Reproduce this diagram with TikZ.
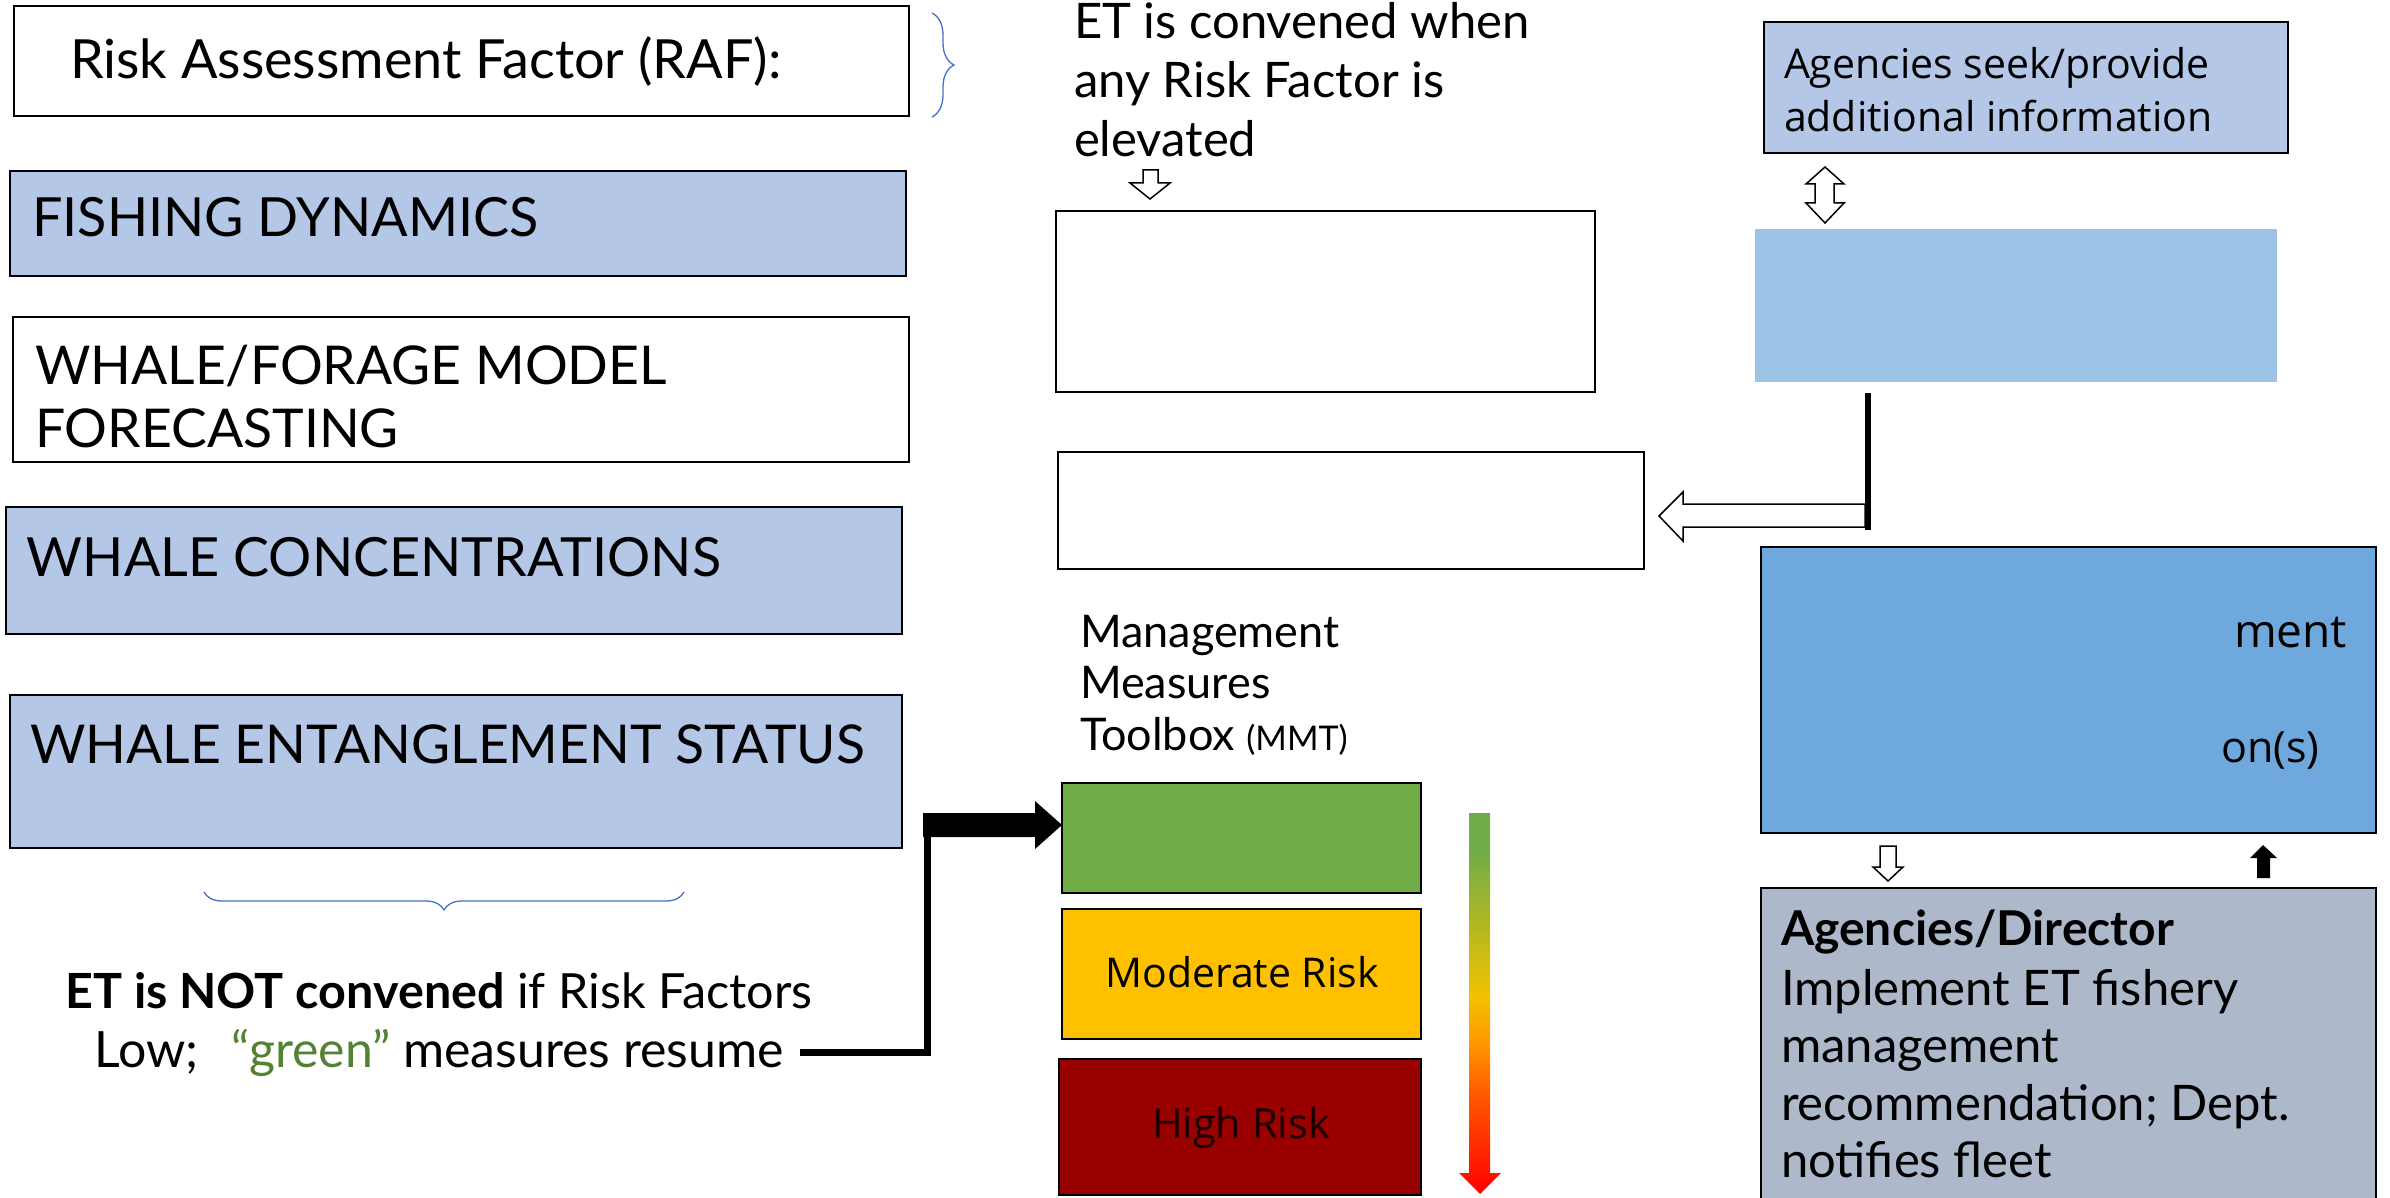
\documentclass[tikz,border=0pt]{standalone}
\usepackage{fontspec}
\setmainfont{Lato}
\newfontfamily\osans{Open Sans}
\usetikzlibrary{fit,decorations.pathreplacing}
\definecolor{lblue}{HTML}{B4C7E7}
\definecolor{mblue}{HTML}{9DC3E6}
\definecolor{dblue}{HTML}{6FA8DC}
\definecolor{greybox}{HTML}{ADB9CA}
\definecolor{lowgreen}{HTML}{70AD47}
\definecolor{modyellow}{HTML}{FFC000}
\definecolor{highred}{HTML}{990000}
\definecolor{braceblue}{HTML}{4472C4}
\definecolor{txtgreen}{HTML}{548235}
\definecolor{rgRed}{HTML}{FF0000}
\definecolor{rgRO}{HTML}{FF5500}
\definecolor{rgOr}{HTML}{FF9900}
\definecolor{rgYe}{HTML}{F2C200}
\definecolor{rgGr}{HTML}{70AD47}
\pgfdeclareverticalshading{riskgrad}{100bp}{color(0bp)=(rgRed); color(25bp)=(rgRed); color(37.5bp)=(rgRO); color(45bp)=(rgOr); color(51bp)=(rgYe); color(70bp)=(rgGr); color(100bp)=(rgGr)}
\newcommand\FS[1]{\fontsize{#1}{#1}\selectfont}
\begin{document}
\begin{tikzpicture}[x=1pt,y=-1pt,
  boxframe/.style={draw=black, line width=1.6pt, inner sep=0pt, outer sep=0pt},
  plainfill/.style={inner sep=0pt, outer sep=0pt},
  txt/.style={anchor=base west, inner sep=0pt, outer sep=0pt},
  ctxt/.style={anchor=base, inner sep=0pt, outer sep=0pt},
  hollow/.style={draw=black, fill=white, line width=1.5pt, line join=miter},
  solidarrow/.style={fill=black, draw=none},
  braceline/.style={draw=braceblue, line width=1.3pt, decorate},
  heavyline/.style={draw=black, line width=7pt}
]
\useasboundingbox (0,0) rectangle (2390,1198);
\clip (0,0) rectangle (2390,1198);

% ---------- left column ----------
\node[boxframe, fit={(14,6) (909,116)}] (raf) {};
\node[txt, font=\FS{54}] (raft) at (70,79) {Risk Assessment Factor (RAF):};
\draw[braceline, decoration={brace, amplitude=22pt}] (932,13) -- (932,117);

\node[boxframe, fill=lblue, fit={(10,171) (906,276)}] (fd) {};
\node[txt, font=\FS{54}] (fdt) at (32,237) {FISHING DYNAMICS};

\node[boxframe, fit={(13,317) (909,462)}] (wf) {};
\node[txt, font=\FS{53.5}] (wft1) at (35,384) {WHALE/FORAGE MODEL};
\node[txt, font=\FS{53.5}] (wft2) at (35,447) {FORECASTING};

\node[boxframe, fill=lblue, fit={(6,507) (902,634)}] (wc) {};
\node[txt, font=\FS{54}] (wct) at (27,576) {WHALE CONCENTRATIONS};

\node[boxframe, fill=lblue, fit={(10,695) (902,848)}] (wes) {};
\node[txt, font=\FS{53.5}] (west) at (30,763) {WHALE ENTANGLEMENT STATUS};

\draw[braceline, decoration={brace, amplitude=18pt}] (684,892) -- (204,892);

\node[ctxt, font=\FS{48.5}] (notc1) at (439,1008) {\bfseries ET is NOT convened\mdseries{} if Risk Factors};
\node[ctxt, font=\FS{50}] (notc2) at (439,1067) {Low;\enspace\thinspace{}\textcolor{txtgreen}{“green”} measures resume};

% ---------- middle column ----------
\node[txt, font=\FS{49}] (etc1) at (1074,39) {ET is convened when};
\node[txt, font=\FS{49}] (etc2) at (1074,98) {any Risk Factor is};
\node[txt, font=\FS{49}] (etc3) at (1074,157) {elevated};
\draw[hollow] (1143,170) -- (1158,170) -- (1158,183) -- (1170,183) -- (1150,199) -- (1130,183) -- (1143,183) -- cycle;

\node[boxframe, fit={(1056,211) (1595,392)}] (etbox) {};
\node[boxframe, fit={(1058,452) (1644,569)}] (recbox) {};

\node[txt, font=\FS{45}] (mmt1) at (1080,647) {Management};
\node[txt, font=\FS{45}] (mmt2) at (1080,698) {Measures};
\node[txt, font=\FS{45}] (mmt3) at (1080,750) {Toolbox {\FS{34}(MMT)}};

\node[boxframe, fill=lowgreen, fit={(1062,783) (1421,893)}] (low) {};
\node[boxframe, fill=modyellow, fit={(1062,909) (1421,1039)}] (mod) {};
\node[ctxt, font=\osans\FS{41}] (modt) at (1242,987) {Moderate Risk};
\node[boxframe, fill=highred, fit={(1059,1059) (1421,1195)}] (high) {};
\node[ctxt, font=\osans\FS{41.5}, text=black!90!red] (hight) at (1241,1138) {High Risk};

\path[shading=riskgrad] (1469,813) -- (1490,813) -- (1490,1173) -- (1501,1173) -- (1480,1194) -- (1459,1173) -- (1469,1173) -- cycle;

% connector from "measures resume" to the green box
\coordinate (c0) at (800,1052);
\coordinate (c1) at (927,1052);
\coordinate (c2) at (927,813);
\draw[heavyline] (c0) -- ([xshift=3.5pt]c1);
\draw[heavyline] ([yshift=3.5pt]c1) -- (c2);
\fill[solidarrow] (923,813) -- (1035,813) -- (1035,801) -- (low.west |- 0,825) -- (1035,849) -- (1035,837) -- (923,837) -- cycle;

% ---------- right column ----------
\node[boxframe, fill=lblue, fit={(1764,22) (2288,153)}] (seek) {};
\node[txt, font=\osans\FS{41}] (seekt1) at (1784,79) {Agencies seek/provide};
\node[txt, font=\osans\FS{41}] (seekt2) at (1784,132) {additional information};

\draw[hollow] (1815,184) -- (1806,184) -- (1825,167) -- (1844,184) -- (1834,184) -- (1834,203) -- (1844,203) -- (1825,223) -- (1806,203) -- (1815,203) -- cycle;

\node[plainfill, fill=mblue, fit={(1755,229) (2277,382)}] (info) {};

\coordinate (ltip) at (1659,516);
\draw[hollow] (1865,504) -- (1683,504) -- (1683,492) -- (ltip) -- (1683,541) -- (1683,527) -- (1865,527) -- cycle;
\draw[draw=black, line width=6pt] (1868,393) -- (1868,530);

\node[boxframe, fill=dblue, fit={(1761,547) (2376,833)}] (tbox) {};
\node[txt, font=\osans\FS{46}] (tment) at (2234,647) {ment};
\node[txt, font=\osans\FS{43}] (tons) at (2221,762) {on(s)};

\draw[hollow] (1880,846) -- (1896,846) -- (1896,867) -- (1903,867) -- (1888,881) -- (1873,867) -- (1880,867) -- cycle;
\fill[solidarrow] (2257,878) -- (2257,858) -- (2250,858) -- (2263,845) -- (2277,858) -- (2270,858) -- (2270,878) -- cycle;

\node[boxframe, fill=greybox, fit={(1761,888) (2376,1230)}] (dir) {};
\node[txt, font=\FS{48}] (dirt0) at (1781,945) {\bfseries Agencies/Director};
\node[txt, font=\FS{49}] (dirt1) at (1781,1005) {Implement ET fishery};
\node[txt, font=\FS{49}] (dirt2) at (1781,1062) {management};
\node[txt, font=\FS{49}] (dirt3) at (1781,1120) {recommendation; Dept.};
\node[txt, font=\FS{49}] (dirt4) at (1781,1177) {notifies fleet};
\end{tikzpicture}
\end{document}
